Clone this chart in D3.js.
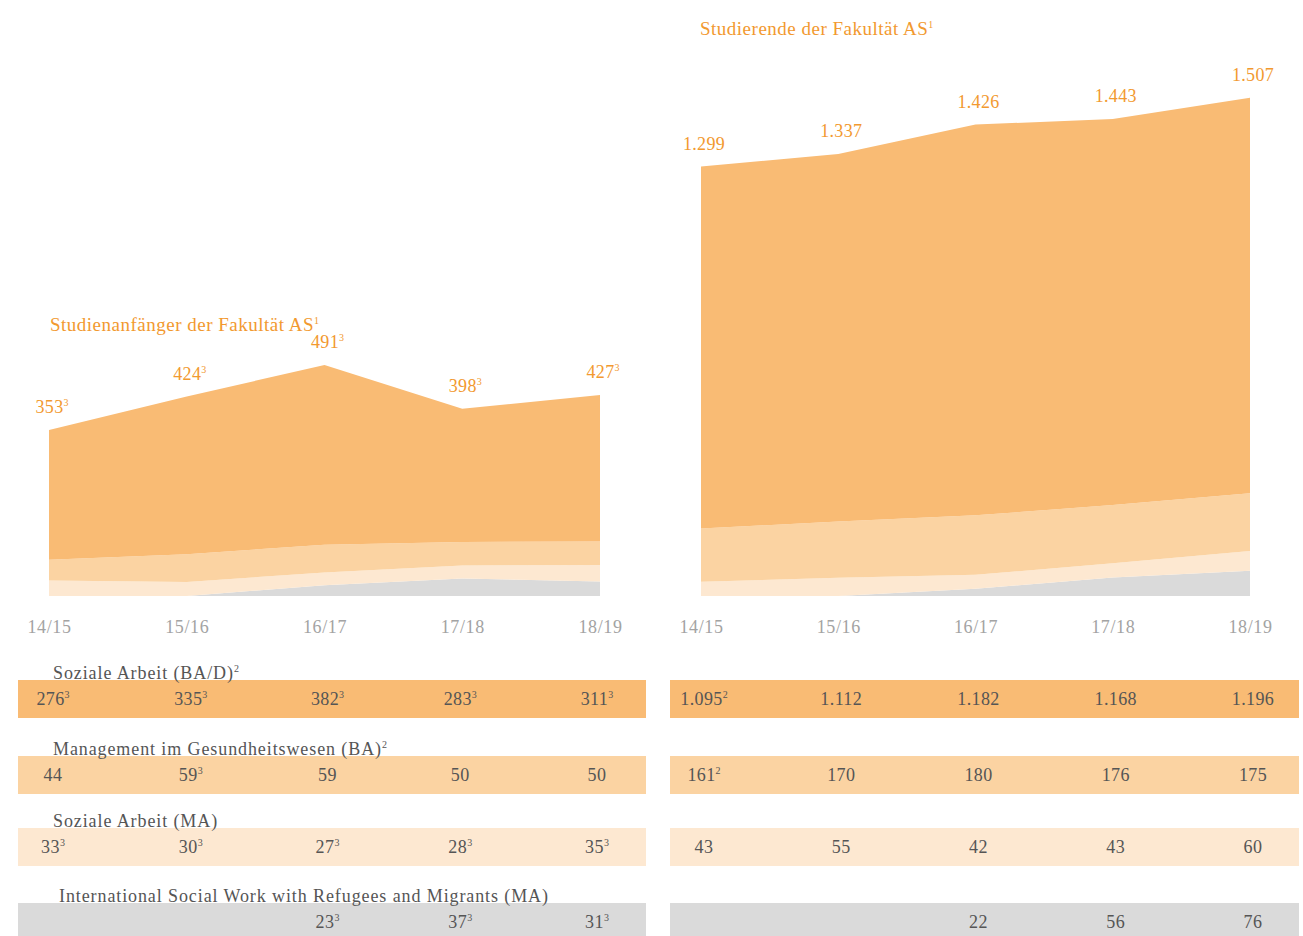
<!DOCTYPE html>
<html>
<head>
<meta charset="utf-8">
<script src="https://cdn.jsdelivr.net/npm/d3@7"></script>
<style>
  body { margin: 0; background: #fff; }
  text { font-family: "Liberation Serif", "DejaVu Serif", serif; }
</style>
</head>
<body>
<div id="chart"></div>
<script>
// years on the x axis
var years = ["14/15", "15/16", "16/17", "17/18", "18/19"];

// Studienanfänger (left chart)
var anfSozBA  = [276, 335, 382, 283, 311];
var anfMgmtBA = [44, 59, 59, 50, 50];
var anfSozMA  = [33, 30, 27, 28, 35];
var anfIswMA  = [0, 0, 23, 37, 31];
var anfTotal  = [353, 424, 491, 398, 427];

// Studierende (right chart)
var stdSozBA  = [1095, 1112, 1182, 1168, 1196];
var stdMgmtBA = [161, 170, 180, 176, 175];
var stdSozMA  = [43, 55, 42, 43, 60];
var stdIswMA  = [0, 0, 22, 56, 76];
var stdTotal  = [1299, 1337, 1426, 1443, 1507];

// footnote marks
var anfTotalNote = ["3", "3", "3", "3", "3"];
var anfSozBANote = ["3", "3", "3", "3", "3"];
var anfMgmtNote  = ["", "3", "", "", ""];
var anfSozMANote = ["3", "3", "3", "3", "3"];
var anfIswNote   = ["3", "3", "3", "3", "3"];
var stdSozBANote = ["2", "", "", "", ""];
var stdMgmtNote  = ["2", "", "", "", ""];

var rowNames = ["Soziale Arbeit (BA/D)", "Management im Gesundheitswesen (BA)",
                "Soziale Arbeit (MA)", "International Social Work with Refugees and Migrants (MA)"];
var rowNotes = ["2", "2", "", ""];
var keys = ["iswMA", "sozMA", "mgmtBA", "sozBA"];

var colors = {sozBA: "#f9bb74", mgmtBA: "#fbd3a2", sozMA: "#fde8d1", iswMA: "#dadada"};
var orange = "#f2992f", textGrey = "#555555", axisGrey = "#a3a3a3";

var de = d3.formatLocale({decimal: ",", thousands: ".", grouping: [3], currency: ["", "€"]});
var fmt = de.format(",d");

var W = 1303, H = 936, baseY = 596;

var svg = d3.select("#chart")
  .append("svg")
    .attr("width", W)
    .attr("height", H);

function rows(a, b, c, d) {
  return years.map(function(y, i) {
    return {year: y, sozBA: a[i], mgmtBA: b[i], sozMA: c[i], iswMA: d[i]};
  });
}

// label with a superscript footnote mark
function withNote(sel, value, note) {
  sel.append("tspan").text(value);
  if (note) {
    sel.append("tspan")
      .attr("dy", -7)
      .style("font-size", "10px")
      .style("letter-spacing", "0px")
      .text(note);
  }
}

function drawChart(opt) {
  var data = rows(opt.a, opt.b, opt.c, opt.d);

  var x = d3.scalePoint()
    .domain(years)
    .range(opt.xRange);

  var y = d3.scaleLinear()
    .domain([0, opt.yMax])
    .range([baseY, baseY - opt.yMax * opt.k]);

  var stack = d3.stack().keys(keys)(data);

  var area = d3.area()
    .x(function(d) { return x(d.data.year); })
    .y0(function(d) { return y(d[0]); })
    .y1(function(d) { return y(d[1]); });

  svg.append("g")
    .selectAll("path")
    .data(stack)
    .enter()
    .append("path")
      .attr("d", area)
      .style("fill", function(d) { return colors[d.key]; });

  // total labels
  svg.append("g")
    .selectAll("text")
    .data(opt.total)
    .enter()
    .append("text")
      .attr("x", function(d, i) { return x(years[i]) + 3; })
      .attr("y", function(d) { return y(d) - 17; })
      .style("text-anchor", "middle")
      .style("font-size", "18px")
      .style("letter-spacing", "0.3px")
      .style("fill", orange)
      .each(function(d, i) { withNote(d3.select(this), fmt(d), opt.totalNote[i]); });

  // title
  var t = svg.append("text")
    .attr("x", opt.titleX)
    .attr("y", opt.titleY)
    .style("font-size", "19px")
    .style("letter-spacing", "0.5px")
    .style("fill", orange);
  withNote(t, opt.title, "1");

  // x axis
  var xAxis = svg.append("g")
    .attr("transform", "translate(0," + baseY + ")")
    .call(d3.axisBottom(x).tickSize(0).tickPadding(24));
  xAxis.select(".domain").remove();
  xAxis.selectAll("text")
    .style("font-family", "Liberation Serif")
    .style("font-size", "18px")
    .style("letter-spacing", "0.6px")
    .style("fill", axisGrey);

  return x;
}

var xLeft = drawChart({
  a: anfSozBA, b: anfMgmtBA, c: anfSozMA, d: anfIswMA,
  total: anfTotal, totalNote: anfTotalNote,
  xRange: [49, 600], yMax: 500, k: 0.4705,
  title: "Studienanfänger der Fakultät AS", titleX: 50, titleY: 331
});

var xRight = drawChart({
  a: stdSozBA, b: stdMgmtBA, c: stdSozMA, d: stdIswMA,
  total: stdTotal, totalNote: ["", "", "", "", ""],
  xRange: [701, 1250], yMax: 1600, k: 0.3306,
  title: "Studierende der Fakultät AS", titleX: 700, titleY: 35
});

// tables below the charts
var rowTop = [680, 756, 828, 903];
var rowColor = [colors.sozBA, colors.mgmtBA, colors.sozMA, colors.iswMA];
var rowLabelX = [53, 53, 53, 59];

var leftVals  = [anfSozBA, anfMgmtBA, anfSozMA, anfIswMA];
var leftNotes = [anfSozBANote, anfMgmtNote, anfSozMANote, anfIswNote];
var rightVals  = [stdSozBA, stdMgmtBA, stdSozMA, stdIswMA];
var rightNotes = [stdSozBANote, stdMgmtNote, ["", "", "", "", ""], ["", "", "", "", ""]];

function drawTable(x, x0, x1, vals, notes, shift) {
  rowTop.forEach(function(top, r) {
    svg.append("rect")
      .attr("x", x0)
      .attr("y", top)
      .attr("width", x1 - x0)
      .attr("height", 38)
      .style("fill", rowColor[r]);

    svg.append("g")
      .selectAll("text")
      .data(vals[r])
      .enter()
      .append("text")
        .attr("x", function(d, i) { return x(years[i]) + shift[i]; })
        .attr("y", top + 25)
        .style("text-anchor", "middle")
        .style("font-size", "18px")
        .style("letter-spacing", "0.4px")
        .style("fill", textGrey)
        .each(function(d, i) {
          if (d > 0) withNote(d3.select(this), fmt(d), notes[r][i]);
        });
  });
}

drawTable(xLeft, 18, 646, leftVals, leftNotes, [4, 4, 3, -2, -3]);
drawTable(xRight, 670, 1299, rightVals, rightNotes, [3, 3, 3, 3, 3]);

// row labels (drawn last so they sit over the bands)
rowNames.forEach(function(name, r) {
  var t = svg.append("text")
    .attr("x", rowLabelX[r])
    .attr("y", rowTop[r] - 1)
    .style("font-size", "18px")
    .style("letter-spacing", "0.9px")
    .style("fill", textGrey);
  withNote(t, name, rowNotes[r]);
});
</script>
</body>
</html>
